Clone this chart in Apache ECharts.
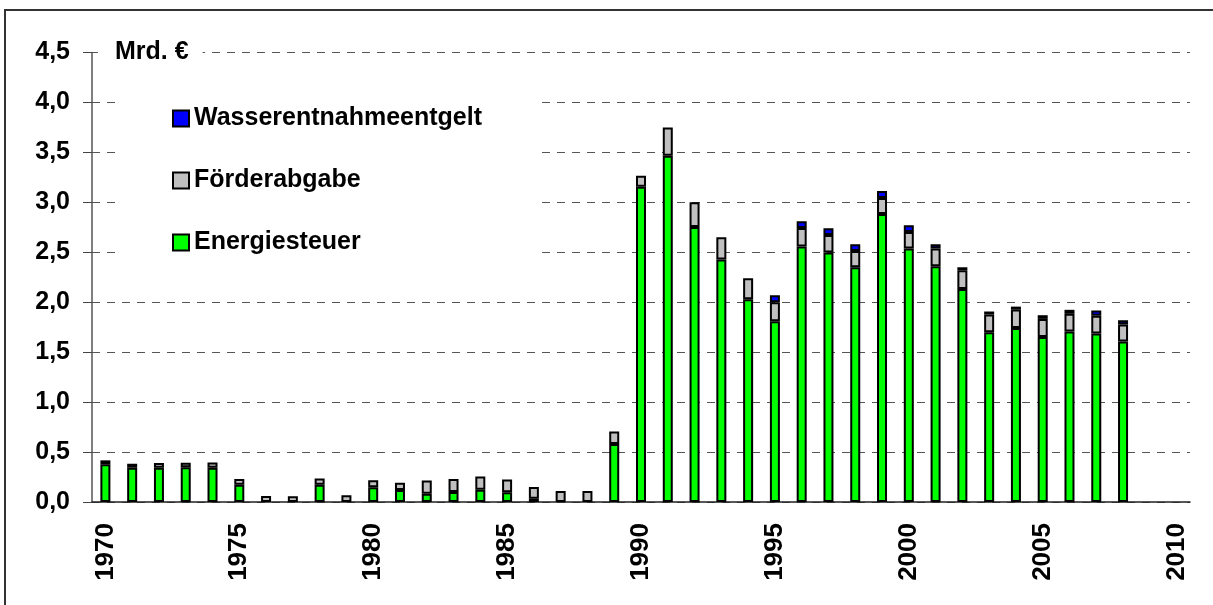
<html>
  <head>
    <meta charset="utf-8">
    <title>Mrd. €</title>
    <script src="https://cdn.jsdelivr.net/npm/echarts@6.0.0/dist/echarts.min.js"></script>
    <style>
        html, body {
          margin: 0;
          padding: 0;
          background: #fff;
        }
        #main {
          position: absolute;
          left: 0;
          top: 0;
          width: 1213px;
          height: 605px;
        }
        #frame {
          position: absolute;
          left: 4px;
          top: 9px;
          width: 1240px;
          height: 640px;
          border-top: 2px solid #333;
          border-left: 2px solid #333;
          pointer-events: none;
        }
    </style>
  </head>
  <body>
    <div id="main"></div>
    <div id="frame"></div>

    <script type="text/javascript">
        // Jahre 1970 - 2010 (Daten bis 2008)
        var years = [];
        for (var y = 1970; y <= 2010; y++) years.push(String(y));

        var energiesteuer = [
          0.377, 0.343, 0.343, 0.347, 0.343, 0.173, null, null, 0.173, null,
          0.147, 0.12, 0.083, 0.10, 0.123, 0.097, 0.033, null, null, 0.58,
          3.157, 3.467, 2.753, 2.427, 2.03, 1.81, 2.557, 2.497, 2.35, 2.883,
          2.537, 2.36, 2.133, 1.70, 1.743, 1.653, 1.707, 1.687, 1.607, null, null
        ];
        var foerderabgabe = [
          0.04, 0.04, 0.047, 0.046, 0.053, 0.057, 0.06, 0.057, 0.063, 0.067,
          0.07, 0.073, 0.133, 0.13, 0.133, 0.127, 0.117, 0.11, 0.11, 0.127,
          0.11, 0.283, 0.247, 0.223, 0.21, 0.19, 0.187, 0.177, 0.163, 0.16,
          0.167, 0.177, 0.187, 0.177, 0.183, 0.18, 0.177, 0.177, 0.17, null, null
        ];
        var wasserentnahme = [
          null, null, null, null, null, null, null, null, null, null,
          null, null, null, null, null, null, null, null, null, null,
          null, null, null, null, null, 0.07, 0.067, 0.067, 0.067, 0.07,
          0.067, 0.043, 0.03, 0.03, 0.03, 0.037, 0.04, 0.053, 0.043, null, null
        ];

        var font = 'Liberation Sans, Arial, sans-serif';

        var chartDom = document.getElementById('main');
        var myChart = echarts.init(chartDom);
        var option;

        function barSeries(name, data, color) {
          return {
            name: name,
            type: 'bar',
            stack: 'Total',
            barWidth: 10,
            data: data,
            itemStyle: {
              color: color,
              borderColor: '#000',
              borderWidth: 2
            }
          };
        }

        option = {
          animation: false,
          title: {
            text: 'Mrd. €',
            left: 98,
            top: 35,
            padding: [5, 14, 5, 17],
            backgroundColor: '#fff',
            textStyle: {
              fontFamily: font,
              fontWeight: 'bold',
              fontSize: 25,
              color: '#000'
            }
          },
          legend: {
            orient: 'vertical',
            left: 122,
            top: 92,
            padding: [14, 55, 20, 50],
            backgroundColor: '#fff',
            itemWidth: 16,
            itemHeight: 16,
            itemGap: 37,
            icon: 'rect',
            data: ['Wasserentnahmeentgelt', 'Förderabgabe', 'Energiesteuer'],
            textStyle: {
              fontFamily: font,
              fontWeight: 'bold',
              fontSize: 25,
              lineHeight: 24,
              color: '#000'
            }
          },
          grid: {
            left: 92,
            right: 23,
            top: 52.5,
            bottom: 103
          },
          xAxis: {
            type: 'category',
            data: years,
            boundaryGap: true,
            axisLine: { lineStyle: { color: '#222', width: 1.5 } },
            axisTick: { interval: 4, length: 9, lineStyle: { color: '#444' } },
            axisLabel: {
              interval: 4,
              rotate: 90,
              margin: 21,
              fontFamily: font,
              fontWeight: 'bold',
              fontSize: 26,
              color: '#000'
            }
          },
          yAxis: {
            type: 'value',
            min: 0,
            max: 4.5,
            interval: 0.5,
            axisLine: { show: true, lineStyle: { color: '#555', width: 1.5 } },
            axisTick: { show: true, length: 9, lineStyle: { color: '#444' } },
            axisLabel: {
              margin: 22,
              fontFamily: font,
              fontWeight: 'bold',
              fontSize: 25,
              color: '#000',
              formatter: function (v) { return v.toFixed(1).replace('.', ','); }
            },
            splitLine: {
              lineStyle: { color: '#555', type: [8, 7], width: 1 }
            }
          },
          series: [
            barSeries('Energiesteuer', energiesteuer, '#00ff00'),
            barSeries('Förderabgabe', foerderabgabe, '#c0c0c0'),
            barSeries('Wasserentnahmeentgelt', wasserentnahme, '#0000ff')
          ]
        };

        option && myChart.setOption(option);
    </script>
  </body>
</html>
